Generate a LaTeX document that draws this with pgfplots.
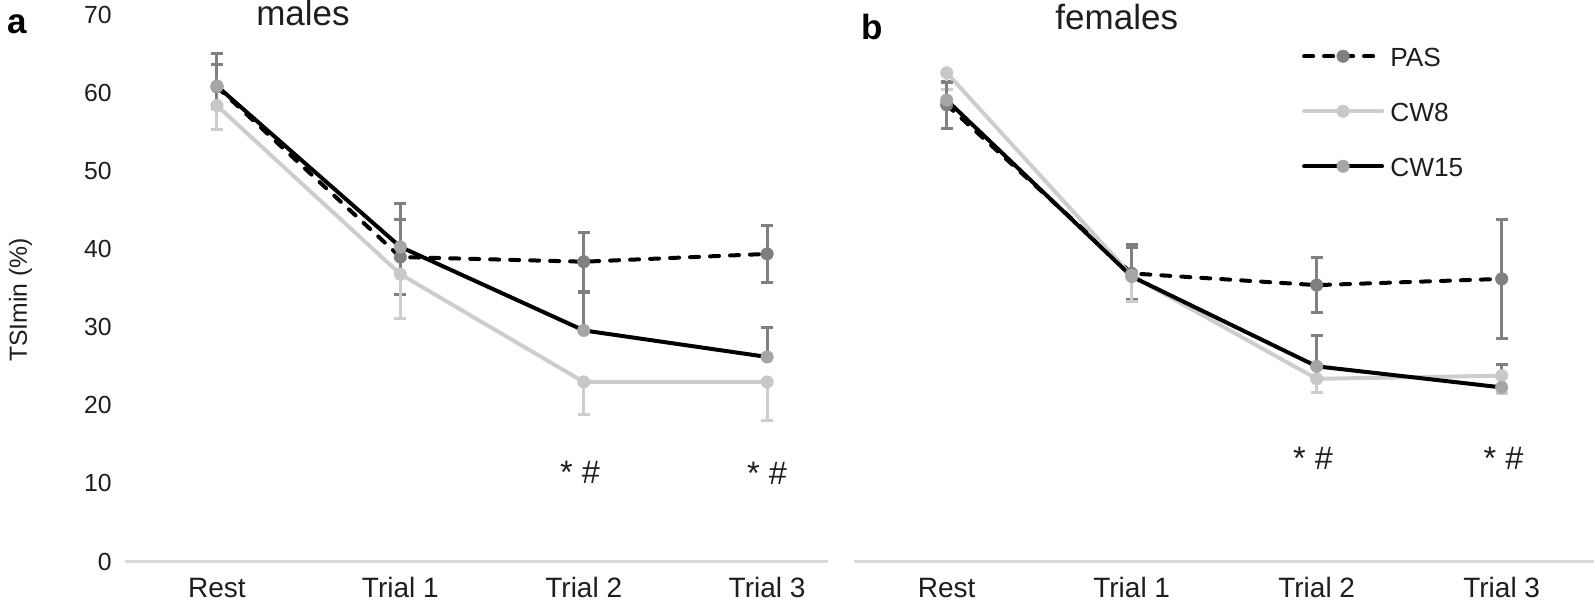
\documentclass[border=0pt]{standalone}
\usepackage{pgfplots}
\usepackage{pgfplotstable}
\pgfplotsset{compat=1.18}
\usepackage{fontspec}
\setmainfont{Liberation Sans}
\definecolor{pasm}{RGB}{128,128,128}
\definecolor{cwfm}{RGB}{166,166,166}
\definecolor{cwline}{RGB}{205,205,205}
\definecolor{cwem}{RGB}{200,200,200}
\definecolor{errd}{RGB}{128,128,128}
\definecolor{axisc}{RGB}{217,217,217}
\definecolor{txt}{RGB}{30,30,30}

\pgfplotstableread{
x y e
0 60.8 2.8
1 39.0 4.8
2 38.4 3.8
3 39.4 3.6
}\mpas
\pgfplotstableread{
x y e
0 58.4 3.1
1 36.8 5.7
2 23.0 4.2
3 23.0 5.0
}\mcwe
\pgfplotstableread{
x y e
0 60.9 4.2
1 40.3 5.6
2 29.6 4.9
3 26.2 3.8
}\mcwf
\pgfplotstableread{
x y e
0 58.5 3.0
1 36.9 3.3
2 35.4 3.5
3 36.2 7.6
}\fpas
\pgfplotstableread{
x y e
0 62.6 2.1
1 36.6 3.3
2 23.4 1.7
3 23.8 2.3
}\fcwe
\pgfplotstableread{
x y e
0 59.1 2.3
1 36.5 4.1
2 25.0 3.9
3 22.3 2.9
}\fcwf

\pgfplotsset{
  base/.style={scale only axis, height=218.6pt, ymin=0, ymax=70, clip=false,
    axis lines*=left, y axis line style={draw=none},
    x axis line style={draw=axisc, line width=1.2pt},
    tick style={draw=none}, tick align=inside,
    xtick={0,1,2,3}, xticklabels={Rest,Trial 1,Trial 2,Trial 3},
    xticklabel style={font=\fontsize{11.2}{13}\selectfont, text=txt, anchor=base, inner sep=0pt, yshift=-14.6pt},
    /pgf/number format/assume math mode=true,
    legend image code/.code={\draw[mark repeat=2,mark phase=2,##1] plot coordinates {(0pt,0pt) (15.6pt,0pt) (31.2pt,0pt)};},
  },
  passtyle/.style={black, line width=1.6pt, dash pattern=on 3.6pt off 4.4pt, line cap=round,
    mark=*, mark size=2.5pt, mark options={solid, draw=pasm, fill=pasm, line width=0.2pt},
    error bars/.cd, y dir=both, y explicit,
    error bar style={solid, line cap=butt, line width=1.2pt, draw=errd},
    error mark options={solid, rotate=90, mark size=2.4pt, line width=1.2pt, draw=errd}},
  cwestyle/.style={draw=cwline, line width=1.6pt, line cap=round,
    mark=*, mark size=2.5pt, mark options={solid, draw=cwem, fill=cwem, line width=0.2pt},
    error bars/.cd, y dir=minus, y explicit,
    error bar style={solid, line cap=butt, line width=1.2pt, draw=cwline},
    error mark options={solid, rotate=90, mark size=2.4pt, line width=1.2pt, draw=cwline}},
  cwfstyle/.style={black, line width=1.6pt, line cap=round,
    mark=*, mark size=2.5pt, mark options={solid, draw=cwfm, fill=cwfm, line width=0.2pt},
    error bars/.cd, y dir=plus, y explicit,
    error bar style={solid, line cap=butt, line width=1.2pt, draw=errd},
    error mark options={solid, rotate=90, mark size=2.4pt, line width=1.2pt, draw=errd}},
}

\begin{document}
\begin{tikzpicture}
\useasboundingbox (0,0) rectangle (638pt,-242.8pt);

\begin{axis}[base, at={(50.12pt,-224.6pt)}, anchor=south west,
  width=281.0pt, xmin=-0.5, xmax=3.331,
  ytick={0,10,...,70},
  yticklabel style={font=\fontsize{9.9}{12}\selectfont, text=txt, anchor=east, inner sep=0pt, xshift=-5.3pt}]
\addplot[passtyle] table[x=x, y=y, y error=e] {\mpas};
\addplot[cwestyle] table[x=x, y=y, y error=e] {\mcwe};
\addplot[cwfstyle] table[x=x, y=y, y error=e] {\mcwf};
\node[font=\fontsize{13}{15}\selectfont, text=txt] at (axis cs:1.98,11.4) {* \#};
\node[font=\fontsize{13}{15}\selectfont, text=txt] at (axis cs:3.0,11.3) {* \#};
\end{axis}

\begin{axis}[base, at={(341.68pt,-224.6pt)}, anchor=south west,
  width=296pt, xmin=-0.5, xmax=3.5, ytick=\empty,
  legend style={draw=none, fill=none, at={(axis cs:1.921,66.0)}, anchor=north west,
    inner sep=0pt, outer sep=0pt, row sep=14pt, column sep=2.5pt,
    nodes={inner sep=0pt, text height=8pt, text depth=0pt, font=\fontsize{10.5}{12}\selectfont, text=txt}},
  legend cell align=left]
\addplot[passtyle] table[x=x, y=y, y error=e] {\fpas};
\addlegendentry{PAS}
\addplot[cwestyle] table[x=x, y=y, y error=e] {\fcwe};
\addlegendentry{CW8}
\addplot[cwfstyle] table[x=x, y=y, y error=e] {\fcwf};
\addlegendentry{CW15}
\node[font=\fontsize{13}{15}\selectfont, text=txt] at (axis cs:1.98,13.2) {* \#};
\node[font=\fontsize{13}{15}\selectfont, text=txt] at (axis cs:3.01,13.2) {* \#};
\end{axis}

\node[font=\fontsize{14}{16}\selectfont\bfseries, anchor=base west, inner sep=0pt] at (2.6pt,-13.4pt) {a};
\node[font=\fontsize{14}{16}\selectfont\bfseries, anchor=base west, inner sep=0pt] at (344.5pt,-16pt) {b};
\node[font=\fontsize{14}{16}\selectfont, text=txt, anchor=base, inner sep=0pt] at (121.2pt,-10.2pt) {males};
\node[font=\fontsize{14}{16}\selectfont, text=txt, anchor=base, inner sep=0pt] at (446.7pt,-11.8pt) {females};
\node[font=\fontsize{9.9}{12}\selectfont, text=txt, rotate=90, inner sep=0pt] at (8.2pt,-120pt) {TSImin (\%)};
\end{tikzpicture}
\end{document}
